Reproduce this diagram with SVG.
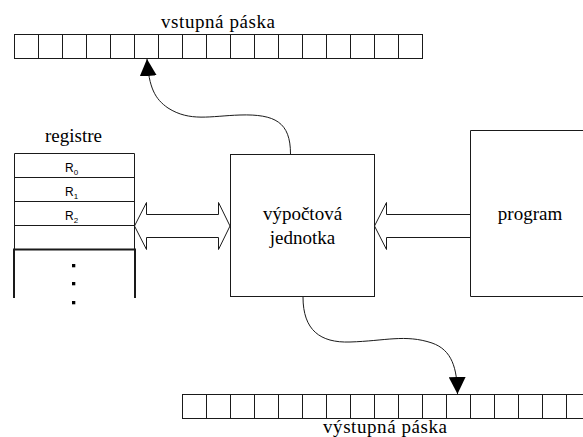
<svg xmlns="http://www.w3.org/2000/svg" width="583" height="437" viewBox="0 0 583 437">
  <style>
    .ln { fill: none; stroke: #1a1a1a; stroke-width: 1; }
    .thick { fill: none; stroke: #1a1a1a; stroke-width: 2; }
    .lbl { font-family: "Liberation Serif", "Times New Roman", serif; font-size: 19px; fill: #000; }
    .reg { font-family: "Liberation Sans", Arial, sans-serif; font-size: 12px; fill: #000; }
    .sub { font-size: 8px; }
    .dot { fill: #000; }
  </style>
  <defs>
    <marker id="head" viewBox="0 0 10 10" refX="10" refY="5" markerWidth="17" markerHeight="17" markerUnits="userSpaceOnUse" orient="auto">
      <path d="M0,0 L10,5 L0,10 Z" fill="#000"/>
    </marker>
  </defs>
  <rect width="583" height="437" fill="#fff"/>

  <!-- input tape: 17 cells -->
  <g id="input-tape">
    <rect class="ln" x="14.5" y="34.5" width="408" height="24"/>
    <path class="ln" d="M38.5,34.5v24 M62.5,34.5v24 M86.5,34.5v24 M110.5,34.5v24 M134.5,34.5v24 M158.5,34.5v24 M182.5,34.5v24 M206.5,34.5v24 M230.5,34.5v24 M254.5,34.5v24 M278.5,34.5v24 M302.5,34.5v24 M326.5,34.5v24 M350.5,34.5v24 M374.5,34.5v24 M398.5,34.5v24"/>
    <text class="lbl" x="218" y="28" text-anchor="middle" textLength="114">vstupná páska</text>
  </g>

  <!-- register file -->
  <g id="registers">
    <text class="lbl" x="73.5" y="141.5" text-anchor="middle">registre</text>
    <path class="ln" d="M14.5,153.5 H134.5 M14.5,177.5 H134.5 M14.5,201.5 H134.5 M14.5,225.5 H134.5 M14.5,153.5 V250 M134.5,153.5 V250"/>
    <path class="thick" d="M14,298 V249.5 H135 V298"/>
    <text class="reg" x="65" y="171.5">R<tspan class="sub" dy="3">0</tspan></text>
    <text class="reg" x="65" y="196">R<tspan class="sub" dy="3">1</tspan></text>
    <text class="reg" x="65" y="220">R<tspan class="sub" dy="3">2</tspan></text>
    <rect class="dot" x="72" y="264" width="3.3" height="3.3"/>
    <rect class="dot" x="72" y="282" width="3.3" height="3.3"/>
    <rect class="dot" x="72" y="301" width="3.3" height="3.3"/>
  </g>

  <!-- processing unit -->
  <g id="cpu">
    <rect class="ln" x="230.5" y="154.5" width="144" height="142"/>
    <text class="lbl" x="302.5" y="220" text-anchor="middle">výpočtová</text>
    <text class="lbl" x="302.5" y="244" text-anchor="middle">jednotka</text>
  </g>

  <!-- program store: open to the right -->
  <g id="program">
    <path class="ln" d="M590,130.5 H470.5 V296.5 H590"/>
    <text class="lbl" x="530" y="220" text-anchor="middle">program</text>
  </g>

  <!-- output tape: runs past the right edge -->
  <g id="output-tape">
    <rect class="ln" x="182.5" y="394.5" width="409" height="24"/>
    <path class="ln" d="M206.5,394.5v24 M230.5,394.5v24 M254.5,394.5v24 M278.5,394.5v24 M302.5,394.5v24 M326.5,394.5v24 M350.5,394.5v24 M374.5,394.5v24 M398.5,394.5v24 M422.5,394.5v24 M446.5,394.5v24 M470.5,394.5v24 M494.5,394.5v24 M518.5,394.5v24 M542.5,394.5v24 M566.5,394.5v24"/>
    <text class="lbl" x="385" y="433" text-anchor="middle" textLength="124">výstupná páska</text>
  </g>

  <!-- connectors -->
  <g id="connectors">
    <!-- registers <-> processing unit (hollow double arrow) -->
    <path class="ln" d="M134.5,226 L146.5,202.5 V214.5 H218.5 V202.5 L230,226 L218.5,249.5 V237.5 H146.5 V249.5 Z"/>
    <!-- program -> processing unit (hollow arrow) -->
    <path class="ln" d="M470.5,214.5 H386.5 V202.5 L374.5,226 L386.5,249.5 V237.5 H470.5"/>
    <!-- read head -->
    <path class="ln" marker-end="url(#head)" d="M290.5,154 C290.5,122 275,114 240,115 C210,116 190,122 168,108 C155,99 149,88 147,59"/>
    <!-- write head -->
    <path class="ln" marker-end="url(#head)" d="M303,297 C303,330 320,343 350,342 C385,341 405,334 432,343 C452,350 457,368 457.5,394"/>
  </g>
</svg>
